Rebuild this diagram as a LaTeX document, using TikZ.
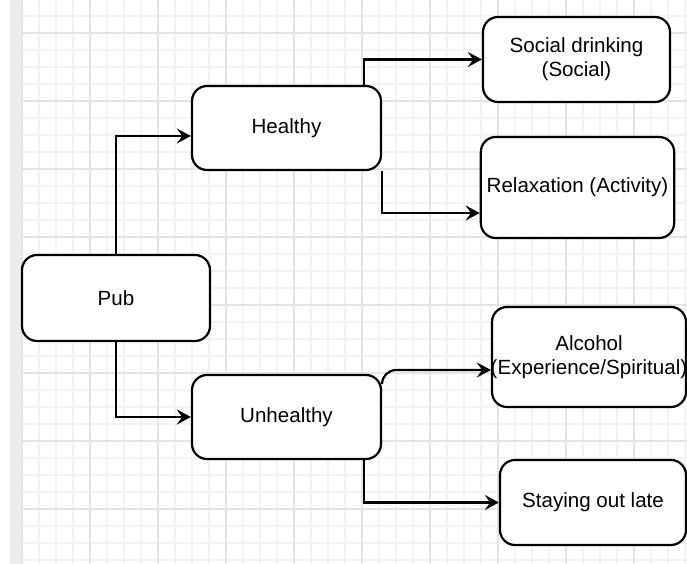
\documentclass[tikz,border=0pt]{standalone}
\usepackage{fontspec}
\setmainfont{Liberation Sans}
\usepackage{xcolor}
\usetikzlibrary{arrows.meta, calc}
\definecolor{gridminor}{HTML}{F3F3F3}
\definecolor{gridmajor}{HTML}{E4E4E4}
\tikzset{
	block/.style={rectangle, draw, line width=1.25pt, rounded corners=0.3cm, fill=white, align=center, font=\fontsize{11.7}{13.5}\selectfont},
	line/.style={draw, line width=1.25pt, -{Stealth[length=8pt, width=8.5pt, inset=3pt]}},
	minorline/.style={draw=gridminor, line width=0.6pt},
	majorline/.style={draw=gridmajor, line width=0.8pt}
}

\begin{document}
\begin{tikzpicture}[x=0.02cm, y=-0.02cm]
	\useasboundingbox (0,0) rectangle (687,564);
	% Background grid
	\fill[black!7] (10,0) rectangle (22,564);
	\foreach \i in {0,...,39} \draw[minorline] ({22+17*\i},0) -- ({22+17*\i},564);
	\foreach \i in {0,...,32} \draw[minorline] (22,{16+17*\i}) -- (687,{16+17*\i});
	\foreach \i in {0,...,9} \draw[majorline] ({22+68*\i},0) -- ({22+68*\i},564);
	\foreach \i in {0,...,7} \draw[majorline] (22,{33+68*\i}) -- (687,{33+68*\i});
	
	% Root node
	\node[block, minimum width=3.76cm, minimum height=1.72cm] (pub) at (116,298) {Pub};
	
	% Second level
	\node[block, minimum width=3.78cm, minimum height=1.68cm] (healthy) at (286.5,128) {Healthy};
	\node[block, minimum width=3.78cm, minimum height=1.68cm] (unhealthy) at (286.5,417) {Unhealthy};
	
	% Leaves
	\node[block, minimum width=3.74cm, minimum height=1.7cm] (social) at (576.5,59.5) {Social drinking\\(Social)};
	\node[block, minimum width=3.78cm, minimum height=2.02cm] (relax) at (577.5,187.5) {Relaxation (Activity)};
	\node[block, inner xsep=-4pt, minimum width=3.88cm, minimum height=2cm] (alcohol) at (589,357) {Alcohol\\(Experience/Spiritual)};
	\node[block, minimum width=3.72cm, minimum height=1.7cm] (staying) at (593,502.5) {Staying out late};
	
	% Connectors
	\path[line] (pub.north) |- ([yshift=-0.16cm]healthy.west);
	\path[line] (pub.south) |- (unhealthy.west);
	\path[line] ([xshift=-0.36cm]healthy.north east) |- (social.west);
	\path[line] (healthy.south east) |- ([yshift=-0.51cm]relax.west);
	\path[line, rounded corners=0.28cm] ([yshift=0.68cm]unhealthy.east) |- ([yshift=-0.26cm]alcohol.west);
	\path[line] ([xshift=-0.36cm]unhealthy.south east) |- (staying.west);
\end{tikzpicture}
\end{document}
